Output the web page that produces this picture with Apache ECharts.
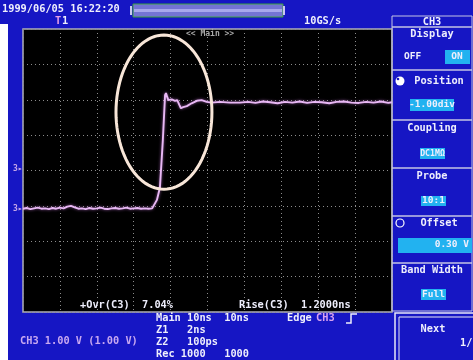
<!DOCTYPE html>
<html>
<head>
<meta charset="utf-8">
<script src="https://cdn.jsdelivr.net/npm/echarts@6/dist/echarts.min.js"></script>
<style>
  html, body { margin: 0; padding: 0; background: #1616c4; }
  #chart { width: 473px; height: 360px; }
</style>
</head>
<body>
<div id="chart"></div>
<script>
// trace in screen divisions (x: 0..10, y: -4..4)
const baseX = [0.0,0.1,0.2,0.3,0.4,0.5,0.6,0.7,0.8,0.9,1.0,1.1,1.2,1.3,1.4,1.5,1.6,1.7,1.8,1.9,
               2.0,2.1,2.2,2.3,2.4,2.5,2.6,2.7,2.8,2.9,3.0,3.1,3.2,3.3,3.4,3.5];
const baseY = [-1.08,-1.06,-1.09,-1.07,-1.05,-1.08,-1.07,-1.09,-1.06,-1.08,-1.05,-1.07,-1.02,-1.00,-1.04,-1.08,-1.07,-1.09,-1.06,-1.08,
               -1.07,-1.05,-1.08,-1.09,-1.07,-1.06,-1.08,-1.07,-1.05,-1.08,-1.07,-1.06,-1.08,-1.07,-1.08,-1.07];
const edgeX = [3.52,3.63,3.71,3.79,3.85,3.875,3.89,3.94,4.03,4.12,4.18,4.24,4.28,4.34,4.44,4.57,4.71,4.84,4.98,5.11,5.34,5.61,5.88];
const edgeY = [-1.08,-0.83,-0.49,0.86,2.13,2.19,2.13,1.99,2.01,1.97,1.99,1.85,1.76,1.79,1.82,1.90,1.97,1.99,1.94,1.92,1.94,1.92,1.92];
const tailX = [6.1,6.3,6.5,6.7,6.9,7.1,7.3,7.5,7.7,7.9,8.1,8.3,8.5,8.7,8.9,9.1,9.3,9.5,9.7,9.9,10.0];
const tailY = [1.94,1.91,1.95,1.93,1.90,1.94,1.92,1.95,1.91,1.94,1.93,1.90,1.94,1.95,1.92,1.91,1.94,1.92,1.95,1.91,1.93];

// highlight ring around the overshoot: centre x, centre y, radius x, radius y (divisions)
const ringData = [[3.82, 1.65, 1.30, 2.18]];

const xAll = baseX.concat(edgeX, tailX);
const yAll = baseY.concat(edgeY, tailY);
const trace = xAll.map((x, i) => [x, yAll[i]]);

const FONT = '"DejaVu Sans Mono", monospace';
const WHITE = '#eeeefc';
const CYAN = '#22b2f0';
const LINE = '#c4c4e4';

function txt(x, y, s, o) {
  o = o || {};
  return {
    type: 'text', x: x, y: y, z: 10,
    style: {
      text: s,
      fill: o.fill || WHITE,
      font: 'bold ' + (o.size || 10.3) + 'px ' + FONT,
      textAlign: o.align || 'left',
      textVerticalAlign: 'middle'
    }
  };
}
function box(x, y, w, h, fill, stroke, lw) {
  return {
    type: 'rect', z: 5,
    shape: { x: x, y: y, width: w, height: h },
    style: { fill: fill || 'none', stroke: stroke || 'none', lineWidth: lw || 1 }
  };
}

let graphics = [
  // scanner margin on the left
  box(0, 24, 8, 336, '#ffffff'),
  // top record bar
  box(133, 4, 150, 13, '#7474d4', '#3aa040', 1),
  box(134, 9, 148, 3, '#a8a8ec'),
  box(130, 6, 2, 9, '#c8c8f0'),
  box(283, 6, 2, 9, '#c8c8f0'),
  txt(2, 9, '1999/06/05 16:22:20'),
  txt(55, 21, 'T', { fill: '#e8a0e8' }),
  txt(62, 21, '1'),
  txt(304, 21, '10GS/s'),
  txt(186, 34, '<< Main >>', { fill: '#a8a8a8', size: 8 }),
  // channel markers on left strip
  txt(13, 169, '3▸', { fill: '#c8a8e8', size: 8 }),
  txt(13, 209, '3▸', { fill: '#c8a8e8', size: 8 }),
  // measurement readouts inside the screen
  txt(80, 305, '+Ovr(C3)  7.04%'),
  txt(239, 305, 'Rise(C3)  1.2000ns'),
  // bottom status area
  txt(156, 318, 'Main 10ns  10ns'),
  txt(156, 330, 'Z1   2ns'),
  txt(156, 342, 'Z2   100ps'),
  txt(156, 354, 'Rec 1000   1000'),
  txt(287, 318, 'Edge'),
  txt(316, 318, 'CH3', { fill: '#d8a0f0' }),
  {
    type: 'polyline', z: 10,
    shape: { points: [[346, 323], [351, 323], [351, 314], [357, 314]] },
    style: { stroke: WHITE, lineWidth: 1.5, fill: 'none' }
  },
  txt(20, 341, 'CH3 1.00 V (1.00 V)', { fill: '#c8a8f0' }),

  // right hand menu
  box(392, 16, 80, 11, null, LINE),
  box(392, 27, 80, 43, null, LINE),
  box(392, 70, 80, 50, null, LINE),
  box(392, 120, 80, 48, null, LINE),
  box(392, 168, 80, 48, null, LINE),
  box(392, 216, 80, 47, null, LINE),
  box(392, 263, 80, 48, null, LINE),
  txt(432, 22, 'CH3', { align: 'center' }),
  txt(432, 34, 'Display', { align: 'center' }),
  txt(404, 57, 'OFF', { size: 9.5 }),
  box(445, 50, 25, 14, CYAN),
  txt(457, 57, 'ON', { align: 'center', size: 9.5 }),
  { type: 'circle', z: 10, shape: { cx: 400, cy: 81, r: 4.5 }, style: { fill: '#ffffff' } },
  { type: 'circle', z: 11, shape: { cx: 398, cy: 79, r: 1.3 }, style: { fill: '#1616c4' } },
  txt(439, 81, 'Position', { align: 'center' }),
  box(410, 99, 44, 12, CYAN),
  txt(432, 105, '-1.00div', { align: 'center', size: 9.5 }),
  txt(432, 128, 'Coupling', { align: 'center' }),
  box(420, 148, 25, 11, CYAN),
  txt(432.5, 154, 'DC1MΩ', { align: 'center', size: 8.2 }),
  txt(432, 176, 'Probe', { align: 'center' }),
  box(421, 196, 25, 10, CYAN),
  txt(433.5, 201, '10:1', { align: 'center', size: 9.5 }),
  { type: 'circle', z: 10, shape: { cx: 400, cy: 223, r: 4 }, style: { fill: 'none', stroke: '#ffffff', lineWidth: 1.2 } },
  txt(439, 223, 'Offset', { align: 'center' }),
  box(398, 238, 74, 15, CYAN),
  txt(469, 245, '0.30 V', { align: 'right', size: 9.5 }),
  txt(432, 270, 'Band Width', { align: 'center' }),
  box(421, 289, 25, 11, CYAN),
  txt(433.5, 295, 'Full', { align: 'center', size: 9.5 }),
  box(395, 313, 80, 49, null, '#e8e8f8', 1.5),
  box(399, 317, 76, 45, null, '#e8e8f8', 1),
  txt(433, 329, 'Next', { align: 'center' }),
  txt(460, 343, '1/2')
];

let myChart = echarts.init(document.getElementById('chart'));
let options = {
  backgroundColor: '#1616c4',
  animation: false,
  grid: {
    left: 23, top: 29, width: 369, height: 283,
    show: true,
    backgroundColor: '#000000',
    borderColor: '#b0b0b8',
    borderWidth: 1.5
  },
  xAxis: {
    type: 'value', min: 0, max: 10, interval: 1,
    axisLine: { show: false }, axisTick: { show: false }, axisLabel: { show: false },
    splitLine: { lineStyle: { color: '#8c8c8c', type: [1, 3], width: 1 } }
  },
  yAxis: {
    type: 'value', min: -4, max: 4, interval: 1,
    axisLine: { show: false }, axisTick: { show: false }, axisLabel: { show: false },
    splitLine: { lineStyle: { color: '#8c8c8c', type: [1, 3], width: 1 } }
  },
  series: [
    {
      name: 'CH3',
      type: 'line',
      data: trace,
      showSymbol: false,
      lineStyle: { color: '#e8b8f4', width: 1.9, shadowColor: 'rgba(200,120,220,0.7)', shadowBlur: 3 },
      z: 3
    },
    {
      name: 'ring',
      type: 'custom',
      data: ringData,
      z: 4,
      renderItem: function (params, api) {
        let c = api.coord([api.value(0), api.value(1)]);
        let s = api.size([api.value(2), api.value(3)]);
        let pts = [];
        for (let k = 0; k < 96; k++) {
          let a = k / 96 * Math.PI * 2;
          pts.push([c[0] + s[0] * Math.cos(a), c[1] + s[1] * Math.sin(a)]);
        }
        return {
          type: 'polygon',
          shape: { points: pts },
          style: { fill: 'none', stroke: '#f8e6d8', lineWidth: 3 }
        };
      }
    }
  ],
  graphic: graphics
};
myChart.setOption(options);
</script>
</body>
</html>
